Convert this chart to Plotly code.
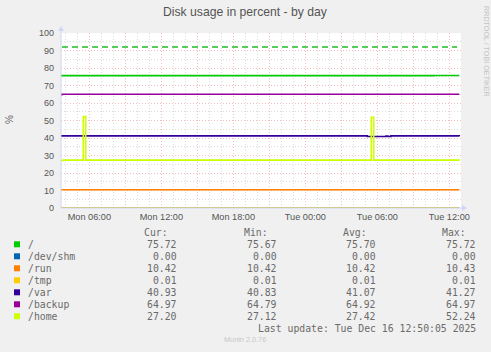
import plotly.graph_objects as go

# ---------------- data ----------------
X_RANGE = ["2025-12-15 03:38:20", "2025-12-16 12:58:20"]
T0 = "2025-12-15 03:38:20"
T1 = "2025-12-16 12:50:05"

NAMES = ["/", "/dev/shm", "/run", "/tmp", "/var", "/backup", "/home"]
COLORS = ["#00CC00", "#0066B3", "#FF8000", "#FFCC00", "#330099", "#990099", "#CCFF00"]

root_t = [T0, "2025-12-16 10:43", T1]
root_v = [75.67, 75.72, 75.72]

devshm_t = [T0, T1]
devshm_v = [0.00, 0.00]

run_t = [T0, T1]
run_v = [10.42, 10.42]

tmp_t = [T0, T1]
tmp_v = [0.01, 0.01]

var_t = [T0, "2025-12-16 05:10", "2025-12-16 06:43", "2025-12-16 06:53",
         "2025-12-16 07:08", T1]
var_v = [41.20, 40.85, 41.05, 40.85, 41.20, 40.93]

backup_t = [T0, "2025-12-15 03:43", T1]
backup_v = [64.79, 64.97, 64.97]

home_t = [T0, "2025-12-15 03:48", "2025-12-15 05:30", "2025-12-15 05:42",
          "2025-12-16 05:30", "2025-12-16 05:42", T1]
home_v = [27.12, 27.35, 52.24, 27.35, 51.90, 27.35, 27.20]

SERIES_T = [root_t, devshm_t, run_t, tmp_t, var_t, backup_t, home_t]
SERIES_V = [root_v, devshm_v, run_v, tmp_v, var_v, backup_v, home_v]

CUR = [75.72, 0.00, 10.42, 0.01, 40.93, 64.97, 27.20]
MIN = [75.67, 0.00, 10.42, 0.01, 40.83, 64.79, 27.12]
AVG = [75.70, 0.00, 10.42, 0.01, 41.07, 64.92, 27.42]
MAX = [75.72, 0.00, 10.43, 0.01, 41.27, 64.97, 52.24]

WARNING = 92

X_TICKVALS = ["2025-12-15 06:00", "2025-12-15 09:00", "2025-12-15 12:00",
              "2025-12-15 15:00", "2025-12-15 18:00", "2025-12-15 21:00",
              "2025-12-16 00:00", "2025-12-16 03:00", "2025-12-16 06:00",
              "2025-12-16 09:00", "2025-12-16 12:00"]
X_TICKTEXT = ["Mon 06:00", "", "Mon 12:00", "", "Mon 18:00", "",
              "Tue 00:00", "", "Tue 06:00", "", "Tue 12:00"]

TITLE = "Disk usage in percent - by day"
LAST_UPDATE = "Last update: Tue Dec 16 12:50:05 2025"

# ---------------- layout helpers (pixel -> paper) ----------------
W, H = 491, 352
L, T, PW, PH = 61, 33, 400, 175


def px(x):
    return (x - L) / PW


def py(y):
    return (T + PH - y) / PH


FONT_COL = "#6a6a6a"
SANS = "Liberation Sans"
MONO = "DejaVu Sans Mono"
AXIS_COL = "#CFD6F8"
MAJOR_GRID = "#F4BDBD"
MINOR_GRID = "#DCDCDC"

fig = go.Figure()

for name, col, t, v in zip(NAMES, COLORS, SERIES_T, SERIES_V):
    fig.add_trace(go.Scatter(x=t, y=v, name=name, mode="lines",
                             line=dict(color=col, width=1.6, shape="hv"),
                             hoverinfo="skip"))

shapes = []
# warning rule
shapes.append(dict(type="line", xref="paper", yref="y", x0=px(62), x1=px(457),
                   y0=WARNING, y1=WARNING,
                   line=dict(color="#22BB22", width=1.3, dash="6px,4px")))
# axis extensions and arrows
shapes.append(dict(type="line", xref="paper", yref="paper", x0=0, x1=0,
                   y0=0, y1=py(28), line=dict(color=AXIS_COL, width=1)))
shapes.append(dict(type="line", xref="paper", yref="paper", x0=0, x1=px(463),
                   y0=0, y1=0, line=dict(color=AXIS_COL, width=1)))
shapes.append(dict(type="path", xref="paper", yref="paper",
                   path=f"M {px(58)} {py(31)} L {px(64)} {py(31)} L {px(61)} {py(26)} Z",
                   fillcolor=AXIS_COL, line=dict(width=0)))
shapes.append(dict(type="path", xref="paper", yref="paper",
                   path=f"M {px(462)} {py(205)} L {px(462)} {py(211)} L {px(467)} {py(208)} Z",
                   fillcolor=AXIS_COL, line=dict(width=0)))

annotations = []
annotations.append(dict(text=TITLE, xref="paper", yref="paper", x=px(245.5), y=py(12),
                        xanchor="center", yanchor="middle", showarrow=False,
                        font=dict(family=SANS, size=12.2, color="#555555")))
annotations.append(dict(text="%", xref="paper", yref="paper", x=px(9), y=py(120),
                        xanchor="center", yanchor="middle", showarrow=False, textangle=-90,
                        font=dict(family=SANS, size=10, color=FONT_COL)))
annotations.append(dict(text="RRDTOOL / TOBI OETIKER", xref="paper", yref="paper",
                        x=px(487), y=py(51), xanchor="center", yanchor="middle",
                        showarrow=False, textangle=90,
                        font=dict(family=SANS, size=7.2, color="#C4C4C4")))
annotations.append(dict(text="Munin 2.0.76", xref="paper", yref="paper",
                        x=px(245), y=py(339), xanchor="center", yanchor="middle",
                        showarrow=False, font=dict(family=SANS, size=7.3, color="#C8C8C8")))

mono = dict(family=MONO, size=9.8, color=FONT_COL)
# headers
for hdr, xl in zip(["Cur:", "Min:", "Avg:", "Max:"], [143.3, 242.7, 341.7, 440.7]):
    annotations.append(dict(text=hdr, xref="paper", yref="paper", x=px(xl), y=py(232.3),
                            xanchor="left", yanchor="middle", showarrow=False,
                            borderpad=0, font=mono))
col_right = [178.3, 278.3, 377.3, 476.7]
for i, name in enumerate(NAMES):
    yc = 244.3 + 12 * i
    shapes.append(dict(type="rect", xref="paper", yref="paper",
                       x0=px(14), x1=px(20), y0=py(yc + 3), y1=py(yc - 3),
                       fillcolor=COLORS[i], line=dict(width=0)))
    annotations.append(dict(text=name, xref="paper", yref="paper", x=px(26.5), y=py(yc),
                            xanchor="left", yanchor="middle", showarrow=False,
                            borderpad=0, font=mono))
    for vals, xr in zip([CUR, MIN, AVG, MAX], col_right):
        annotations.append(dict(text=f"{vals[i]:.2f}", xref="paper", yref="paper",
                                x=px(xr), y=py(yc), xanchor="right", yanchor="middle",
                                showarrow=False, borderpad=0, font=mono))
annotations.append(dict(text=LAST_UPDATE, xref="paper", yref="paper", x=px(476.7),
                        y=py(328.6), xanchor="right", yanchor="middle", showarrow=False,
                        borderpad=0, font=mono))

fig.update_layout(
    width=W, height=H,
    margin=dict(l=L, r=W - L - PW, t=T, b=H - T - PH, pad=0),
    paper_bgcolor="#F0F0F0", plot_bgcolor="#FFFFFF",
    showlegend=False,
    shapes=shapes, annotations=annotations,
    xaxis=dict(type="date", range=X_RANGE, tickmode="array",
               tickvals=X_TICKVALS, ticktext=X_TICKTEXT,
               showgrid=True, gridcolor=MAJOR_GRID, griddash="1px,2px", gridwidth=1,
               minor=dict(dtick=3600000, tick0="2025-12-15 00:00", showgrid=True,
                          gridcolor=MINOR_GRID, griddash="1px,2px", gridwidth=1),
               zeroline=False, showline=False, ticks="",
               tickfont=dict(family=SANS, size=9.2, color="#555555"),
               ticklabelstandoff=2),
    yaxis=dict(range=[0, 100], dtick=10, tick0=0,
               showgrid=True, gridcolor=MAJOR_GRID, griddash="1px,2px", gridwidth=1,
               minor=dict(dtick=5, showgrid=True, gridcolor=MINOR_GRID,
                          griddash="1px,2px", gridwidth=1),
               zeroline=False, showline=False, ticks="",
               tickfont=dict(family=SANS, size=9, color="#555555"),
               ticklabelstandoff=6),
)

fig.write_html("out.html")
